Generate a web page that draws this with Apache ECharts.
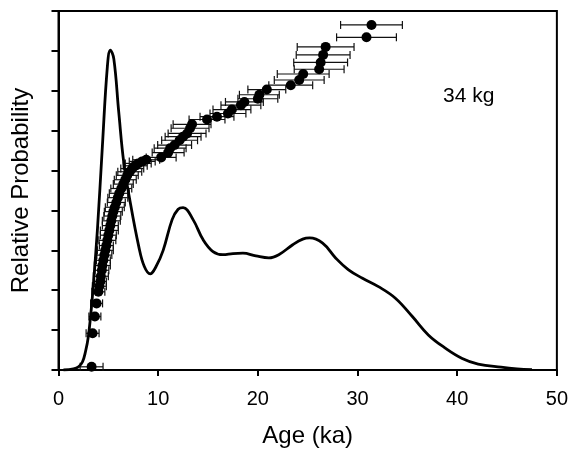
<!DOCTYPE html>
<html>
<head>
<meta charset="utf-8">
<script src="https://cdn.jsdelivr.net/npm/echarts@6/dist/echarts.min.js"></script>
<style>
html,body{margin:0;padding:0;background:#fff;}
#chart{width:571px;height:453px;}
</style>
</head>
<body>
<div id="chart"></div>
<script>
// probability density curve
var curveAge = [0.5,1.5,2.0,2.4,2.7,3.0,3.4,3.9,4.4,4.9,5.2,5.55,6.05,6.55,7.2,8.05,8.6,9.2,9.8,10.5,11.4,12.0,12.5,13.5,14.5,15.5,16.5,17.5,18.5,19.8,21.1,22.1,23.5,24.5,25.2,26.5,27.8,29.1,30.5,32.1,33.8,35.5,37.1,38.8,40.5,42.1,44.4,46.0,47.5];
var curveProb = [0.0,0.03,0.08,0.2,0.45,0.85,1.84,3.5,5.6,7.6,8.02,7.8,6.45,5.2,4.2,3.1,2.6,2.41,2.6,3.0,3.77,4.03,4.07,3.77,3.27,2.97,2.89,2.92,2.93,2.86,2.81,2.89,3.14,3.28,3.31,3.18,2.81,2.51,2.30,2.09,1.80,1.34,0.88,0.55,0.29,0.15,0.07,0.03,0.01];

// ranked ages with errors
var pointAge = [3.32,3.42,3.65,3.82,4.0,4.1,4.2,4.25,4.35,4.4,4.5,4.6,4.7,4.8,4.9,5.0,5.1,5.2,5.3,5.4,5.5,5.65,5.8,5.95,6.1,6.3,6.5,6.7,6.9,7.15,7.4,7.7,8.0,8.4,8.8,10.3,11.0,11.2,11.65,12.15,12.5,12.9,13.2,13.4,14.9,15.9,17.0,17.4,18.3,18.65,20.0,20.15,20.9,23.3,24.15,24.55,26.15,26.3,26.55,26.8,30.9,31.4];
var pointRank = [0.08,0.92,1.34,1.67,1.96,2.1,2.22,2.35,2.5,2.62,2.75,2.88,3.0,3.12,3.25,3.38,3.5,3.62,3.74,3.86,3.97,4.08,4.2,4.32,4.43,4.55,4.66,4.77,4.88,4.97,5.05,5.12,5.18,5.23,5.27,5.33,5.45,5.56,5.64,5.76,5.85,5.93,6.06,6.16,6.28,6.35,6.43,6.53,6.64,6.72,6.8,6.9,7.03,7.14,7.27,7.42,7.54,7.71,7.9,8.1,8.34,8.65];
var pointErr = [1.15,0.65,0.6,0.6,0.65,0.7,0.6,0.75,0.7,0.8,0.7,0.75,0.8,0.7,0.85,0.8,0.9,0.8,0.9,0.85,0.9,0.95,0.9,1.0,1.0,1.05,1.0,1.1,1.1,1.2,1.15,1.2,1.3,1.3,1.35,1.5,1.6,1.6,1.7,1.8,1.8,1.9,1.9,1.9,1.8,1.7,1.8,1.9,2.0,1.9,2.0,2.0,1.9,2.2,2.5,2.6,2.5,2.7,2.7,2.85,3.0,3.1];

var xTicks = [0,10,20,30,40,50];

var curveData = [];
for (var i=0;i<curveAge.length;i++){
    curveData.push([curveAge[i], curveProb[i]]);
}
var pointData = [];
var barData = [];
for (var j=0;j<pointAge.length;j++){
    pointData.push([pointAge[j], pointRank[j]]);
    barData.push([pointAge[j], pointRank[j], pointErr[j]]);
}

function renderErrorBar(params, api){
    var y = api.coord([0, api.value(1)])[1];
    var lo = api.coord([api.value(0) - api.value(2), 0])[0];
    var hi = api.coord([api.value(0) + api.value(2), 0])[0];
    var cap = 4;
    var st = {stroke:'#111', lineWidth:1.2};
    return {
        type:'group',
        children:[
            {type:'line', shape:{x1:lo,y1:y,x2:hi,y2:y}, style:st},
            {type:'line', shape:{x1:lo,y1:y-cap,x2:lo,y2:y+cap}, style:st},
            {type:'line', shape:{x1:hi,y1:y-cap,x2:hi,y2:y+cap}, style:st}
        ]
    };
}

var chart = echarts.init(document.getElementById('chart'), null, {renderer:'canvas'});
var font = 'Liberation Sans';
var option = {
    animation:false,
    backgroundColor:'#fff',
    grid:{
        left:58.5, right:13, top:11, bottom:83,
        show:true, borderColor:'#000', borderWidth:2
    },
    xAxis:{
        type:'value', min:0, max:50, interval:10,
        name:'Age (ka)', nameLocation:'middle', nameGap:54,
        nameTextStyle:{fontFamily:font, fontSize:24, color:'#000'},
        axisLine:{show:true, lineStyle:{color:'#000', width:2}},
        axisTick:{show:true, inside:false, length:6, lineStyle:{color:'#000', width:2}},
        axisLabel:{
            fontFamily:font, fontSize:20, color:'#000', margin:19,
            formatter:function(v){ return xTicks.indexOf(v) >= 0 ? String(v) : ''; }
        },
        splitLine:{show:false}
    },
    yAxis:{
        type:'value', min:0, max:9, interval:1,
        name:'Relative Probability', nameLocation:'middle', nameGap:25,
        nameTextStyle:{fontFamily:font, fontSize:24, color:'#000'},
        axisLine:{show:true, lineStyle:{color:'#000', width:2}},
        axisTick:{show:true, inside:false, length:7, lineStyle:{color:'#000', width:2}},
        axisLabel:{show:false},
        splitLine:{show:false}
    },
    graphic:[{
        type:'text', left:443, top:86,
        style:{text:'34 kg', fontFamily:font, fontSize:21, fill:'#000'}
    }],
    series:[
        {
            type:'custom',
            renderItem:renderErrorBar,
            data:barData,
            encode:{x:0, y:1},
            z:2
        },
        {
            type:'scatter',
            data:pointData,
            symbol:'circle',
            symbolSize:10,
            itemStyle:{color:'#000', opacity:1},
            z:3
        },
        {
            type:'line',
            data:curveData,
            smooth:0.4,
            showSymbol:false,
            lineStyle:{color:'#000', width:2.8},
            z:4
        }
    ]
};
chart.setOption(option);
</script>
</body>
</html>
